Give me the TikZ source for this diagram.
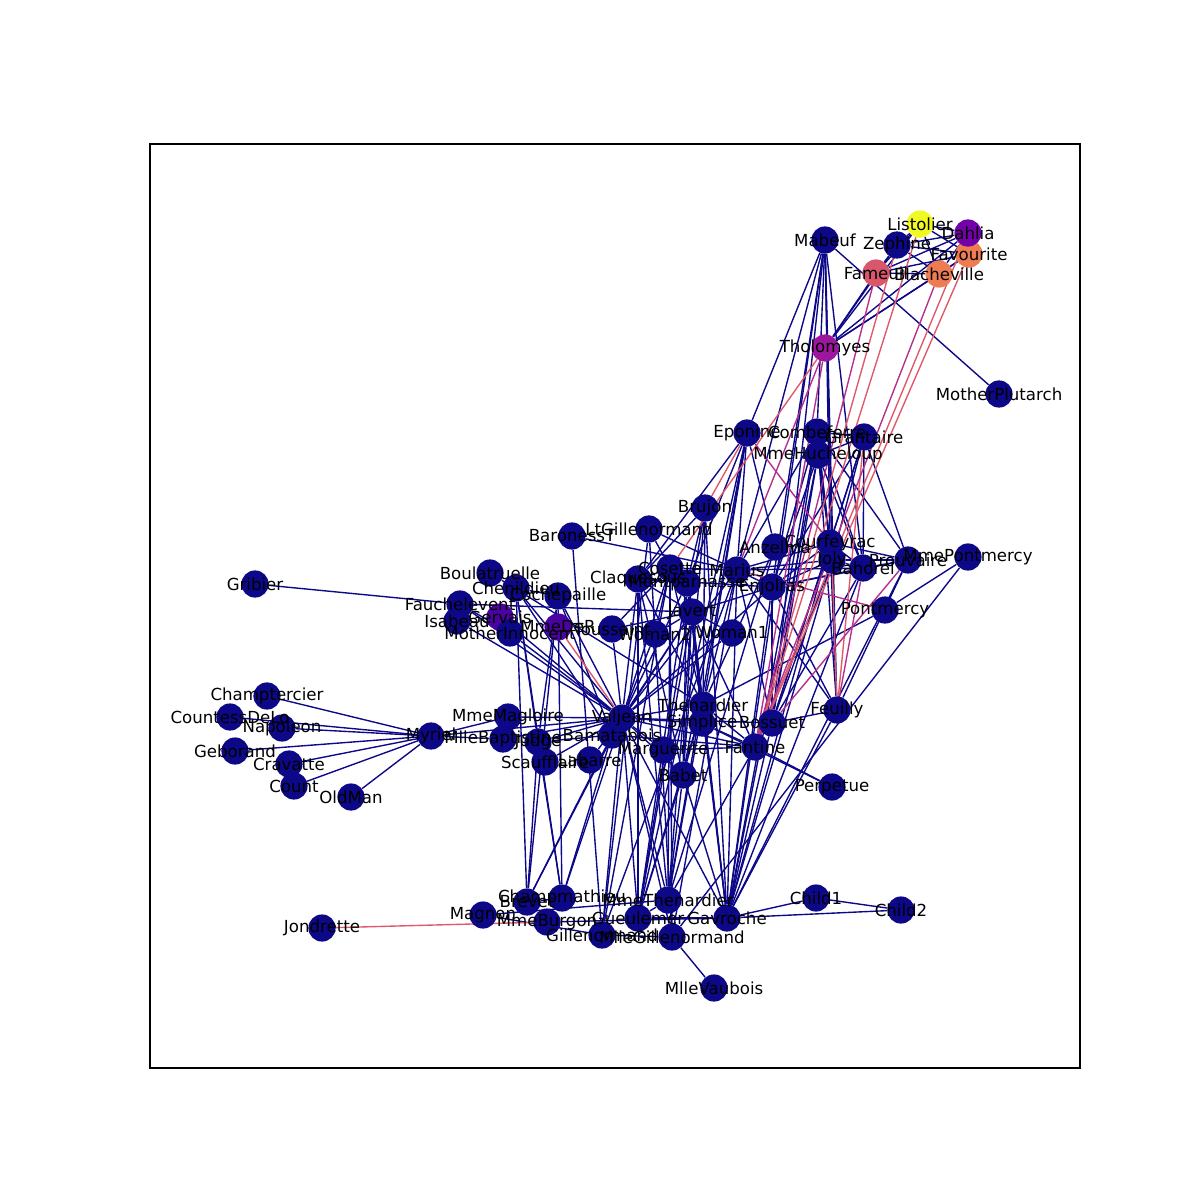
\documentclass[tikz,border=0pt]{standalone}
\usepackage{fontspec}
\setmainfont{DejaVu Sans}
\usetikzlibrary{backgrounds}
\definecolor{nb}{HTML}{0D0887}
\definecolor{cList}{HTML}{F0F921}
\definecolor{cDahlia}{HTML}{7301A8}
\definecolor{cFav}{HTML}{EE7B51}
\definecolor{cFam}{HTML}{D8576B}
\definecolor{cThol}{HTML}{9C179E}
\definecolor{cGerv}{HTML}{4A02A0}
\definecolor{eRed}{HTML}{DE5A6A}
\definecolor{eMag}{HTML}{B52F8C}
\begin{document}
\begin{tikzpicture}[x=0.254mm,y=-0.254mm,
  vert/.style={circle,inner sep=0pt,minimum size=6.9mm},
  lab/.style={inner sep=0pt,font=\fontsize{12pt}{14pt}\selectfont,text=black},
  eb/.style={draw=nb,line width=1pt},
  er/.style={draw=eRed,line width=1pt},
  em/.style={draw=eMag,line width=1pt}]
\useasboundingbox (0,0) rectangle (1200,1200);
\draw[line width=0.8pt] (150,144) rectangle (1080,1068);
\foreach \n/\x/\y/\c in {
Napoleon/282/728/nb, Myriel/431/736/nb, MlleBaptistine/503/739/nb, MmeMagloire/508/717/nb,
CountessDeLo/230/717/nb, Geborand/235/751/nb, Champtercier/267/696/nb, Cravatte/289/764/nb,
Count/294/786/nb, OldMan/351/797/nb, Valjean/622/718/nb, Labarre/590/760/nb,
Marguerite/663/750/nb, MmeDeR/558/627/cGerv, Isabeau/457/621/nb, Gervais/500/617/cGerv,
Listolier/920/224/cList, Tholomyes/825/348/cThol, Fameuil/876/273/cFam, Blacheville/939/274/cFav,
Favourite/969/254/cFav, Dahlia/968/233/cDahlia, Zephine/897/245/nb, Fantine/755/747/nb,
MmeThenardier/668/900/nb, Thenardier/703/705/nb, Cosette/670/568/nb, Javert/692/612/nb,
Fauchelevent/460/604/nb, Bamatabois/612/735/nb, Perpetue/832/787/nb, Simplice/702/723/nb,
Scaufflaire/545/762/nb, Woman1/732/633/nb, Judge/538/742/nb, Champmathieu/562/898/nb,
Brevet/527/902/nb, Chenildieu/516/588/nb, Cochepaille/558/596/nb, Pontmercy/885/610/nb,
Boulatruelle/490/573/nb, Eponine/747/433/nb, Anzelma/775/547/nb, Woman2/655/634/nb,
MotherInnocent/510/633/nb, Gribier/255/584/nb, Jondrette/322/928/nb, MmeBurgon/547/922/nb,
Gavroche/727/918/nb, Gillenormand/602/935/nb, Magnon/483/915/nb, MlleGillenormand/672/937/nb,
MmePontmercy/968/557/nb, MlleVaubois/714/988/nb, LtGillenormand/649/529/nb, Marius/737/570/nb,
BaronessT/572/536/nb, Mabeuf/825/240/nb, Enjolras/772/587/nb, Combeferre/817/432/nb,
Prouvaire/908/560/nb, Feuilly/837/710/nb, Courfeyrac/830/543/nb, Bahorel/863/568/nb,
Bossuet/772/723/nb, Joly/832/560/nb, Grantaire/864/437/nb, MotherPlutarch/999/394/nb,
Gueulemer/638/918/nb, Babet/683/775/nb, Claquesous/638/579/nb, Montparnasse/687/583/nb,
Toussaint/612/629/nb, Child1/816/898/nb, Child2/901/910/nb, Brujon/705/508/nb,
MmeHucheloup/818/455/nb}
  \node[vert,fill=\c] (\n) at (\x,\y) {};
\begin{pgfonlayer}{background}
\foreach \a/\b in {
Napoleon/Myriel, MlleBaptistine/Myriel, MmeMagloire/Myriel, MmeMagloire/MlleBaptistine,
CountessDeLo/Myriel, Geborand/Myriel, Champtercier/Myriel, Cravatte/Myriel, Count/Myriel,
OldMan/Myriel, Valjean/Labarre, Valjean/MmeMagloire, Valjean/MlleBaptistine, Valjean/Myriel,
Marguerite/Valjean, Isabeau/Valjean, Gervais/Valjean,
Listolier/Tholomyes, Fameuil/Tholomyes, Fameuil/Listolier, Blacheville/Tholomyes,
Blacheville/Listolier, Blacheville/Fameuil, Favourite/Tholomyes, Favourite/Listolier,
Favourite/Fameuil, Favourite/Blacheville, Dahlia/Tholomyes, Dahlia/Listolier, Dahlia/Fameuil,
Dahlia/Blacheville, Dahlia/Favourite, Zephine/Tholomyes, Zephine/Listolier, Zephine/Fameuil,
Zephine/Blacheville, Zephine/Favourite, Zephine/Dahlia,
Fantine/Marguerite, Fantine/Valjean, MmeThenardier/Fantine, MmeThenardier/Valjean,
Thenardier/MmeThenardier, Thenardier/Fantine, Thenardier/Valjean, Cosette/MmeThenardier,
Cosette/Valjean, Cosette/Thenardier, Javert/Valjean, Javert/Fantine,
Javert/Thenardier, Javert/MmeThenardier, Javert/Cosette, Fauchelevent/Valjean,
Fauchelevent/Javert, Bamatabois/Fantine, Bamatabois/Javert, Bamatabois/Valjean,
Perpetue/Fantine, Simplice/Perpetue, Simplice/Valjean, Simplice/Fantine, Simplice/Javert,
Scaufflaire/Valjean, Woman1/Valjean, Woman1/Javert, Judge/Valjean, Judge/Bamatabois,
Champmathieu/Valjean, Champmathieu/Judge, Champmathieu/Bamatabois, Brevet/Champmathieu,
Brevet/Valjean, Brevet/Judge, Brevet/Bamatabois, Chenildieu/Brevet, Chenildieu/Champmathieu,
Chenildieu/Valjean, Chenildieu/Judge, Chenildieu/Bamatabois, Cochepaille/Chenildieu,
Cochepaille/Brevet, Cochepaille/Champmathieu, Cochepaille/Judge, Cochepaille/Bamatabois,
Cochepaille/Valjean, Pontmercy/Thenardier, Boulatruelle/Thenardier, Eponine/MmeThenardier,
Eponine/Thenardier, Anzelma/Eponine, Anzelma/Thenardier, Anzelma/MmeThenardier,
Woman2/Valjean, Woman2/Cosette, Woman2/Javert, MotherInnocent/Fauchelevent,
MotherInnocent/Valjean, Gribier/Fauchelevent, Gavroche/MmeBurgon,
Gavroche/Thenardier, Gavroche/Javert, Gavroche/Valjean, Gillenormand/Cosette,
Gillenormand/Valjean, Magnon/Gillenormand, Magnon/MmeThenardier, MlleGillenormand/Gillenormand,
MlleGillenormand/Cosette, MlleGillenormand/Valjean, MmePontmercy/MlleGillenormand,
MmePontmercy/Pontmercy, MlleVaubois/MlleGillenormand, LtGillenormand/MlleGillenormand,
LtGillenormand/Gillenormand, LtGillenormand/Cosette, Marius/MlleGillenormand,
Marius/Gillenormand, Marius/LtGillenormand, Marius/Cosette, Marius/Valjean,
Marius/Thenardier, Marius/Eponine, Marius/Gavroche, BaronessT/Gillenormand,
BaronessT/Marius, Mabeuf/Marius, Mabeuf/Eponine, Mabeuf/Gavroche, Enjolras/Marius,
Enjolras/Gavroche, Enjolras/Javert, Enjolras/Mabeuf, Enjolras/Valjean, Combeferre/Enjolras,
Combeferre/Marius, Combeferre/Gavroche, Combeferre/Mabeuf, Prouvaire/Gavroche,
Prouvaire/Enjolras, Prouvaire/Combeferre, Feuilly/Gavroche, Feuilly/Enjolras,
Feuilly/Prouvaire, Feuilly/Combeferre, Feuilly/Mabeuf, Feuilly/Marius, Courfeyrac/Marius,
Courfeyrac/Enjolras, Courfeyrac/Combeferre, Courfeyrac/Gavroche, Courfeyrac/Mabeuf,
Courfeyrac/Feuilly, Courfeyrac/Prouvaire, Bahorel/Combeferre,
Bahorel/Gavroche, Bahorel/Courfeyrac, Bahorel/Mabeuf, Bahorel/Enjolras,
Bahorel/Prouvaire, Bahorel/Marius, Bossuet/Marius, Bossuet/Courfeyrac, Bossuet/Gavroche,
Bossuet/Bahorel, Bossuet/Enjolras, Bossuet/Feuilly, Bossuet/Combeferre,
Bossuet/Mabeuf, Bossuet/Valjean, Joly/Bahorel, Joly/Bossuet, Joly/Gavroche, Joly/Courfeyrac,
Joly/Enjolras, Joly/Prouvaire, Joly/Combeferre, Joly/Mabeuf, Joly/Marius,
Grantaire/Bossuet, Grantaire/Enjolras, Grantaire/Combeferre, Grantaire/Courfeyrac,
Grantaire/Joly, Grantaire/Bahorel, Grantaire/Prouvaire,
MotherPlutarch/Mabeuf, Gueulemer/Thenardier, Gueulemer/Valjean, Gueulemer/MmeThenardier,
Gueulemer/Javert, Gueulemer/Gavroche, Gueulemer/Eponine, Babet/Thenardier, Babet/Gueulemer,
Babet/Valjean, Babet/MmeThenardier, Babet/Javert, Babet/Gavroche, Babet/Eponine,
Claquesous/Thenardier, Claquesous/Babet, Claquesous/Gueulemer, Claquesous/Valjean,
Claquesous/MmeThenardier, Claquesous/Javert, Claquesous/Eponine, Claquesous/Enjolras,
Montparnasse/Javert, Montparnasse/Babet, Montparnasse/Gueulemer, Montparnasse/Claquesous,
Montparnasse/Valjean, Montparnasse/Gavroche, Montparnasse/Eponine, Montparnasse/Thenardier,
Toussaint/Cosette, Toussaint/Javert, Toussaint/Valjean, Child1/Gavroche, Child2/Gavroche,
Child2/Child1, Brujon/Babet, Brujon/Gueulemer, Brujon/Thenardier, Brujon/Gavroche,
Brujon/Claquesous, Brujon/Montparnasse, MmeHucheloup/Bossuet,
MmeHucheloup/Joly, MmeHucheloup/Grantaire, MmeHucheloup/Bahorel, MmeHucheloup/Courfeyrac,
MmeHucheloup/Gavroche, MmeHucheloup/Enjolras}
  \draw[eb] (\a) -- (\b);
\foreach \a/\b in {Fantine/Listolier, Fantine/Zephine, Fantine/Favourite, Fantine/Dahlia,
  Cosette/Tholomyes, MmeBurgon/Jondrette, MmeDeR/Valjean, Brujon/Eponine,
  Joly/Feuilly, Grantaire/Feuilly}
  \draw[er] (\a) -- (\b);
\foreach \a/\b in {Fantine/Fameuil, Fantine/Blacheville, Fantine/Tholomyes,
  Marius/Tholomyes, Marius/Pontmercy, Bahorel/Feuilly, Bossuet/Prouvaire, Courfeyrac/Eponine}
  \draw[em] (\a) -- (\b);
\end{pgfonlayer}
\foreach \n in {Napoleon, Myriel, MlleBaptistine, MmeMagloire, CountessDeLo, Geborand,
Champtercier, Cravatte, Count, OldMan, Valjean, Labarre, Marguerite, MmeDeR, Isabeau, Gervais,
Listolier, Tholomyes, Fameuil, Blacheville, Favourite, Dahlia, Zephine, Fantine, MmeThenardier,
Thenardier, Cosette, Javert, Fauchelevent, Bamatabois, Perpetue, Simplice, Scaufflaire, Woman1,
Judge, Champmathieu, Brevet, Chenildieu, Cochepaille, Pontmercy, Boulatruelle, Eponine, Anzelma,
Woman2, MotherInnocent, Gribier, Jondrette, MmeBurgon, Gavroche, Gillenormand, Magnon,
MlleGillenormand, MmePontmercy, MlleVaubois, LtGillenormand, Marius, BaronessT, Mabeuf,
Enjolras, Combeferre, Prouvaire, Feuilly, Courfeyrac, Bahorel, Bossuet, Joly, Grantaire,
MotherPlutarch, Gueulemer, Babet, Claquesous, Montparnasse, Toussaint, Child1, Child2, Brujon,
MmeHucheloup}
  \node[lab] at (\n.center) {\n};
\end{tikzpicture}
\end{document}
